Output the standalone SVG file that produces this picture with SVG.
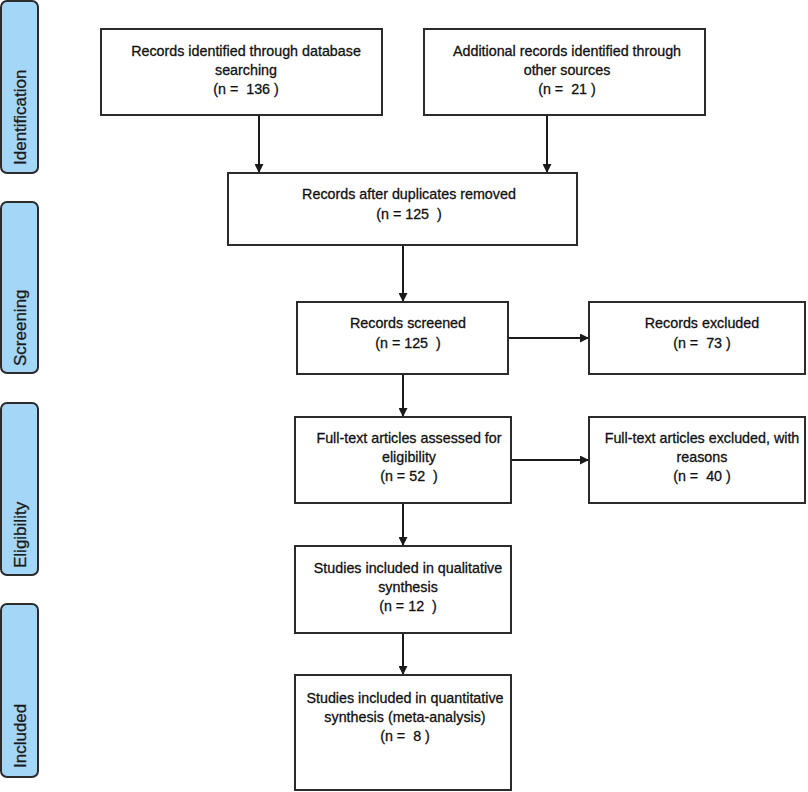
<svg xmlns="http://www.w3.org/2000/svg" width="808" height="792" viewBox="0 0 808 792">
<style>
.phase{fill:#a3d6f7;stroke:#2b2b2b;stroke-width:2}
.phase-t{font-family:"Liberation Sans",Arial,sans-serif;font-size:17px;fill:#1a1a1a;stroke:#1a1a1a;stroke-width:0.3}
.box{fill:#fff;stroke:#2b2b2b;stroke-width:2}
.t{font-family:"Liberation Sans",Arial,sans-serif;font-size:14.3px;fill:#111;stroke:#111;stroke-width:0.3;text-anchor:middle;white-space:pre}
.conn{stroke:#1a1a1a;stroke-width:2;fill:none;marker-end:url(#ah)}
</style>
<defs>
<marker id="ah" viewBox="0 0 10 10" refX="10" refY="5" markerWidth="4.5" markerHeight="4.5" orient="auto" markerUnits="strokeWidth">
<path d="M0,0 L10,5 L0,10 z" fill="#1a1a1a"/>
</marker>
</defs>
<rect width="808" height="792" fill="#fff"/>

<g id="phase-identification">
<rect class="phase" x="1" y="1" width="37" height="172" rx="6"/>
<text class="phase-t" transform="translate(26,165) rotate(-90)">Identification</text>
</g>
<g id="phase-screening">
<rect class="phase" x="1" y="202" width="37" height="171" rx="6"/>
<text class="phase-t" transform="translate(26,366) rotate(-90)">Screening</text>
</g>
<g id="phase-eligibility">
<rect class="phase" x="1" y="403" width="37" height="172" rx="6"/>
<text class="phase-t" transform="translate(26,568) rotate(-90)">Eligibility</text>
</g>
<g id="phase-included">
<rect class="phase" x="1" y="604" width="37" height="173" rx="6"/>
<text class="phase-t" transform="translate(26,768) rotate(-90)">Included</text>
</g>

<g id="connectors">
<line class="conn" x1="259" y1="115" x2="259" y2="173"/>
<line class="conn" x1="547" y1="115" x2="547" y2="173"/>
<line class="conn" x1="403" y1="245" x2="403" y2="302"/>
<line class="conn" x1="508" y1="338" x2="589" y2="338"/>
<line class="conn" x1="403" y1="374" x2="403" y2="417"/>
<line class="conn" x1="511" y1="460" x2="589" y2="460"/>
<line class="conn" x1="403" y1="503" x2="403" y2="546"/>
<line class="conn" x1="403" y1="633" x2="403" y2="675"/>
</g>

<g id="n-database">
<rect class="box" x="101" y="29" width="281" height="86"/>
<text class="t" x="246" y="56">Records identified through database</text>
<text class="t" x="246" y="75">searching</text>
<text class="t" x="246" y="94">(n =  136 )</text>
</g>
<g id="n-other">
<rect class="box" x="424" y="29" width="281" height="86"/>
<text class="t" x="567" y="56">Additional records identified through</text>
<text class="t" x="567" y="75">other sources</text>
<text class="t" x="567" y="94">(n =  21 )</text>
</g>
<g id="n-dedup">
<rect class="box" x="228" y="173" width="349" height="72"/>
<text class="t" x="409" y="199">Records after duplicates removed</text>
<text class="t" x="409" y="219">(n = 125  )</text>
</g>
<g id="n-screened">
<rect class="box" x="297" y="302" width="211" height="72"/>
<text class="t" x="408" y="328">Records screened</text>
<text class="t" x="408" y="348">(n = 125  )</text>
</g>
<g id="n-excluded">
<rect class="box" x="589" y="302" width="216" height="72"/>
<text class="t" x="702" y="328">Records excluded</text>
<text class="t" x="702" y="348">(n =  73 )</text>
</g>
<g id="n-fulltext">
<rect class="box" x="295" y="417" width="216" height="86"/>
<text class="t" x="409" y="443">Full-text articles assessed for</text>
<text class="t" x="409" y="462">eligibility</text>
<text class="t" x="409" y="481">(n = 52  )</text>
</g>
<g id="n-ft-excluded">
<rect class="box" x="589" y="417" width="216" height="86"/>
<text class="t" x="702" y="443">Full-text articles excluded, with</text>
<text class="t" x="702" y="462">reasons</text>
<text class="t" x="702" y="481">(n =  40 )</text>
</g>
<g id="n-qualitative">
<rect class="box" x="295" y="546" width="216" height="87"/>
<text class="t" x="408" y="573">Studies included in qualitative</text>
<text class="t" x="408" y="592">synthesis</text>
<text class="t" x="408" y="611">(n = 12  )</text>
</g>
<g id="n-quantitative">
<rect class="box" x="295" y="675" width="216" height="115"/>
<text class="t" x="405" y="703">Studies included in quantitative</text>
<text class="t" x="405" y="722">synthesis (meta-analysis)</text>
<text class="t" x="405" y="741">(n =  8 )</text>
</g>
</svg>
